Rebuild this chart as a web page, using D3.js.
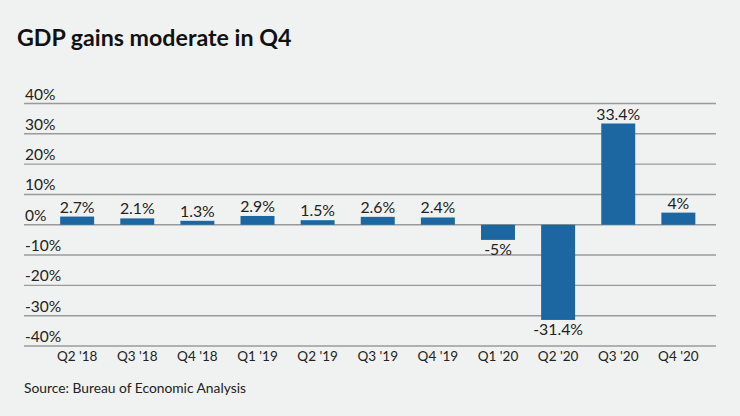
<!DOCTYPE html>
<html>
<head>
<meta charset="utf-8">
<script src="https://cdn.jsdelivr.net/npm/d3@7"></script>
<style>
  html,body{margin:0;padding:0;background:#f0f1f1;}
  svg{display:block;font-family:Lato,"Noto Sans",sans-serif;}
</style>
</head>
<body>
<svg id="chart" width="740" height="416"></svg>
<script>
const quarters = ["Q2 '18","Q3 '18","Q4 '18","Q1 '19","Q2 '19","Q3 '19","Q4 '19","Q1 '20","Q2 '20","Q3 '20","Q4 '20"];
const growth   = [2.7, 2.1, 1.3, 2.9, 1.5, 2.6, 2.4, -5, -31.4, 33.4, 4];
const labels   = ["2.7%","2.1%","1.3%","2.9%","1.5%","2.6%","2.4%","-5%","-31.4%","33.4%","4%"];
const yTicks   = [40, 30, 20, 10, 0, -10, -20, -30, -40];

const svg = d3.select('#chart');
const gridL = 24, gridR = 716;

const x = d3.scaleBand().domain(quarters).range([34, 721.5]).padding(0.435);
const y = d3.scaleLinear().domain([-40, 40]).range([346, 103.5]);

svg.append('text').attr('x', 17).attr('y', 46)
  .attr('font-size', 23.2).attr('font-weight', 700).attr('fill', '#111')
  .text('GDP gains moderate in Q4');

// grid + y labels
const grid = svg.append('g');
grid.selectAll('line').data(yTicks).join('line')
  .attr('x1', gridL).attr('x2', gridR)
  .attr('y1', d => y(d)).attr('y2', d => y(d))
  .attr('stroke', '#9a9a9a').attr('stroke-width', 1.4);
grid.selectAll('text').data(yTicks).join('text')
  .attr('x', gridL + 1).attr('y', d => y(d) - 4)
  .attr('font-size', 15.5).attr('fill', '#222')
  .text(d => d + '%');

// bars
svg.append('g').selectAll('rect').data(growth).join('rect')
  .attr('x', (d, i) => x(quarters[i]))
  .attr('width', x.bandwidth())
  .attr('y', d => y(Math.max(0, d)))
  .attr('height', d => Math.abs(y(d) - y(0)))
  .attr('fill', '#1c67a1');

// value labels
svg.append('g').selectAll('text').data(growth).join('text')
  .attr('x', (d, i) => x(quarters[i]) + x.bandwidth() / 2)
  .attr('y', d => d >= 0 ? y(d) - 4 : y(d) + 15)
  .attr('text-anchor', 'middle').attr('font-size', 15.8).attr('fill', '#222')
  .text((d, i) => labels[i]);

// x axis labels
svg.append('g').selectAll('text').data(quarters).join('text')
  .attr('x', d => x(d) + x.bandwidth() / 2).attr('y', 361)
  .attr('text-anchor', 'middle').attr('font-size', 13.5).attr('fill', '#222')
  .text(d => d);

svg.append('text').attr('x', 24).attr('y', 393)
  .attr('font-size', 13.8).attr('fill', '#222')
  .text('Source: Bureau of Economic Analysis');
</script>
</body>
</html>
